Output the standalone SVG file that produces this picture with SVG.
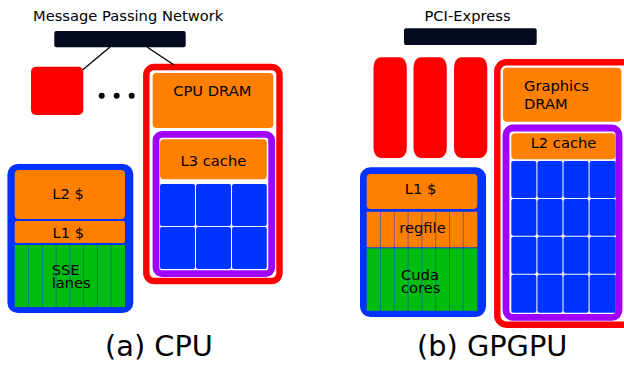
<svg xmlns="http://www.w3.org/2000/svg" width="624" height="368" viewBox="0 0 624 368">
<defs>
<style>
text{font-family:"DejaVu Sans","Liberation Sans",sans-serif;fill:#000}
.lbl{font-size:14.7px}
.cap{font-size:28.8px}
.bar{fill:#050a1e}
.red{fill:#ff0000}
.redbox{fill:#fff;stroke:#ff0000;stroke-width:6.4}
.purp{fill:#fff;stroke:#a000ff;stroke-width:6.8}
.core{fill:#0033ff;stroke:#0033ff;stroke-width:6.6}
.or{fill:#ff7f00}
.gr{fill:#00bd10}
.cell{fill:#0033ff}
.lane{stroke:#0033ff;stroke-opacity:0.5;stroke-width:1}
.conn{stroke:#000;stroke-width:1.3;fill:none}
</style>
</defs>
<rect width="624" height="368" fill="#fff"/>

<!-- CPU side -->
<g id="mpn">
<text class="lbl" x="33" y="20.5">Message Passing Network</text>
<rect class="bar" x="54.3" y="31" width="131.4" height="16.3" rx="2"/>
</g>
<g id="cpu-node-other">
<rect class="red" x="31" y="66.7" width="52.3" height="48.3" rx="5"/>
</g>
<g id="ellipsis">
<circle cx="101.7" cy="95.7" r="3"/>
<circle cx="116.7" cy="95.7" r="3"/>
<circle cx="131.7" cy="95.7" r="3"/>
</g>
<g id="cpu-node">
<rect class="redbox" x="146.3" y="67" width="133.2" height="214" rx="8"/>
<rect class="or" x="152.7" y="73" width="120.6" height="55" rx="4"/>
<text class="lbl" x="212.3" y="96" text-anchor="middle">CPU DRAM</text>
<rect class="purp" x="156" y="134.3" width="115.7" height="139.4" rx="6"/>
<rect class="or" x="160" y="139.3" width="106.8" height="40" rx="4"/>
<text class="lbl" x="213.4" y="166" text-anchor="middle">L3 cache</text>
<rect class="cell" x="160" y="184" width="35" height="42" rx="2"/>
<rect class="cell" x="196" y="184" width="35" height="42" rx="2"/>
<rect class="cell" x="232" y="184" width="34.8" height="42" rx="2"/>
<rect class="cell" x="160" y="227" width="35" height="42" rx="2"/>
<rect class="cell" x="196" y="227" width="35" height="42" rx="2"/>
<rect class="cell" x="232" y="227" width="34.8" height="42" rx="2"/>
</g>
<g id="cpu-core">
<rect class="core" x="10.7" y="167.3" width="119.3" height="142.4" rx="7"/>
<rect class="or" x="14.7" y="170" width="110.3" height="49" rx="4"/>
<text class="lbl" x="68" y="198.5" text-anchor="middle">L2 $</text>
<rect class="or" x="14.7" y="221" width="110.3" height="22" rx="2"/>
<text class="lbl" x="68.3" y="237.5" text-anchor="middle">L1 $</text>
<rect class="gr" x="14.7" y="245" width="110.3" height="62"/>
<path class="lane" d="M28.5 245V307M42.3 245V307M56.1 245V307M69.9 245V307M83.6 245V307M97.4 245V307M111.2 245V307"/>
<text class="lbl" x="51.7" y="275"><tspan x="51.7" y="275">SSE</tspan><tspan x="51.7" y="288.3">lanes</tspan></text>
</g>
<text class="cap" x="105" y="356">(a) CPU</text>

<!-- GPU side -->
<g id="pcie">
<text class="lbl" x="467.5" y="20.5" text-anchor="middle">PCI-Express</text>
<rect class="bar" x="404" y="28.3" width="132.7" height="16.7" rx="2"/>
</g>
<g id="gpu-others">
<rect class="red" x="373.5" y="57.3" width="33.3" height="100.7" rx="7" ry="10"/>
<rect class="red" x="413.5" y="57.3" width="33.3" height="100.7" rx="7" ry="10"/>
<rect class="red" x="454" y="57.3" width="33.3" height="100.7" rx="7" ry="10"/>
</g>
<g id="gpu-node">
<rect class="redbox" x="497.3" y="62.3" width="140" height="262.4" rx="9"/>
<rect class="or" x="503" y="67.7" width="118.3" height="54" rx="4"/>
<text class="lbl" x="524" y="90.7"><tspan x="524" y="90.7">Graphics</tspan><tspan x="524" y="109.3">DRAM</tspan></text>
<rect class="purp" x="506" y="128" width="113" height="189.3" rx="7"/>
<rect class="or" x="511.3" y="133.3" width="104.4" height="26" rx="4"/>
<text class="lbl" x="563.5" y="148.3" text-anchor="middle">L2 cache</text>
<g id="gpu-cells">
<rect class="cell" x="511.3" y="161" width="25.1" height="36.9" rx="2"/>
<rect class="cell" x="537.4" y="161" width="25.1" height="36.9" rx="2"/>
<rect class="cell" x="563.5" y="161" width="25.1" height="36.9" rx="2"/>
<rect class="cell" x="589.6" y="161" width="26.1" height="36.9" rx="2"/>
<rect class="cell" x="511.3" y="198.9" width="25.1" height="36.9" rx="2"/>
<rect class="cell" x="537.4" y="198.9" width="25.1" height="36.9" rx="2"/>
<rect class="cell" x="563.5" y="198.9" width="25.1" height="36.9" rx="2"/>
<rect class="cell" x="589.6" y="198.9" width="26.1" height="36.9" rx="2"/>
<rect class="cell" x="511.3" y="236.8" width="25.1" height="36.9" rx="2"/>
<rect class="cell" x="537.4" y="236.8" width="25.1" height="36.9" rx="2"/>
<rect class="cell" x="563.5" y="236.8" width="25.1" height="36.9" rx="2"/>
<rect class="cell" x="589.6" y="236.8" width="26.1" height="36.9" rx="2"/>
<rect class="cell" x="511.3" y="274.7" width="25.1" height="38" rx="2"/>
<rect class="cell" x="537.4" y="274.7" width="25.1" height="38" rx="2"/>
<rect class="cell" x="563.5" y="274.7" width="25.1" height="38" rx="2"/>
<rect class="cell" x="589.6" y="274.7" width="26.1" height="38" rx="2"/>
</g>
</g>
<g id="gpu-core">
<rect class="core" x="363.3" y="170.6" width="119.4" height="143" rx="7"/>
<rect class="or" x="366.7" y="174" width="110.6" height="35" rx="4"/>
<text class="lbl" x="420.5" y="194.3" text-anchor="middle">L1 $</text>
<rect class="or" x="366.7" y="211.7" width="110.6" height="35.6"/>
<rect class="gr" x="366.7" y="248.3" width="110.6" height="62.5"/>
<path class="lane" d="M380.5 211.7V310.8M394.3 211.7V310.8M408.1 211.7V310.8M421.9 211.7V310.8M435.7 211.7V310.8M449.5 211.7V310.8M463.3 211.7V310.8"/>
<text class="lbl" x="422.5" y="232.7" text-anchor="middle">regfile</text>
<text class="lbl" x="401" y="280"><tspan x="401" y="280">Cuda</tspan><tspan x="401" y="293.3">cores</tspan></text>
</g>
<text class="cap" x="417" y="355.5">(b) GPGPU</text>

<g id="connectors">
<line class="conn" x1="110" y1="47" x2="82.5" y2="70"/>
<line class="conn" x1="147" y1="47" x2="174" y2="65"/>
</g>
</svg>
